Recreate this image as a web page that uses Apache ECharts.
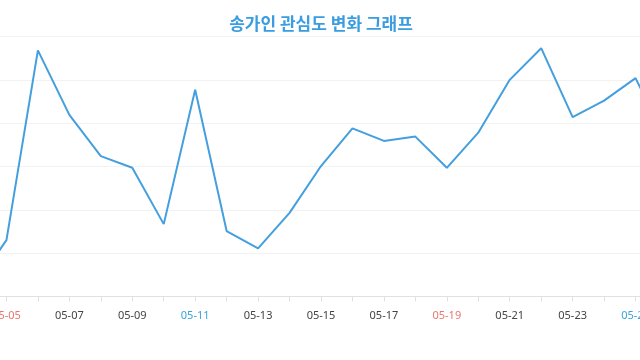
<!DOCTYPE html>
<html>
<head>
<meta charset="utf-8">
<script src="https://cdn.jsdelivr.net/npm/echarts@6/dist/echarts.min.js"></script>
<style>html,body{margin:0;padding:0;background:#fff;overflow:hidden;width:640px;height:360px;position:relative}#c{position:absolute;left:-24.74px;top:0;width:691.7px;height:360px}</style>
</head>
<body>
<div id="c"></div>
<script>
const titleText = '송가인 관심도 변화 그래프';
const dates = ['05-04','05-05','05-06','05-07','05-08','05-09','05-10','05-11','05-12','05-13','05-14','05-15','05-16','05-17','05-18','05-19','05-20','05-21','05-22','05-23','05-24','05-25','05-26'];
const interest = [2.5,13.0,56.8,41.9,32.4,29.7,16.7,47.7,15.1,11.1,19.3,30.1,38.8,35.9,36.9,29.7,37.8,50.0,57.3,41.4,45.2,50.4,35.7];
const redDates = ['05-05','05-19'];
const blueDates = ['05-11','05-25'];

const chart = echarts.init(document.getElementById('c'), null, {renderer:'canvas'});
chart.setOption({
  animation:false,
  backgroundColor:'#fff',
  title:{
    text:titleText, left:'center', top:10,
    textStyle:{color:'#3a9de0', fontSize:17, fontWeight:'bold', fontFamily:'Noto Sans CJK KR'}
  },
  grid:{left:0, right:0, top:36.5, bottom:63.5, containLabel:false},
  xAxis:{
    type:'category', data:dates, boundaryGap:false,
    axisLine:{lineStyle:{color:'#e0e0e0'}},
    axisTick:{show:true, interval:0, length:5, lineStyle:{color:'#e0e0e0'}},
    axisLabel:{
      interval:function(i){return i%2===1;},
      margin:14, fontSize:11, fontFamily:'Noto Sans',
      color:function(v){ if(redDates.indexOf(v)>=0) return '#e8776f'; if(blueDates.indexOf(v)>=0) return '#3aa3dc'; return '#444'; }
    }
  },
  yAxis:{
    type:'value', min:0, max:60, interval:10,
    axisLabel:{show:false}, axisLine:{show:false}, axisTick:{show:false},
    splitLine:{lineStyle:{color:'#f2f2f2'}}
  },
  series:[{
    type:'line', data:interest, symbol:'none',
    lineStyle:{color:'#449fde', width:2}
  }]
});
</script>
</body>
</html>
